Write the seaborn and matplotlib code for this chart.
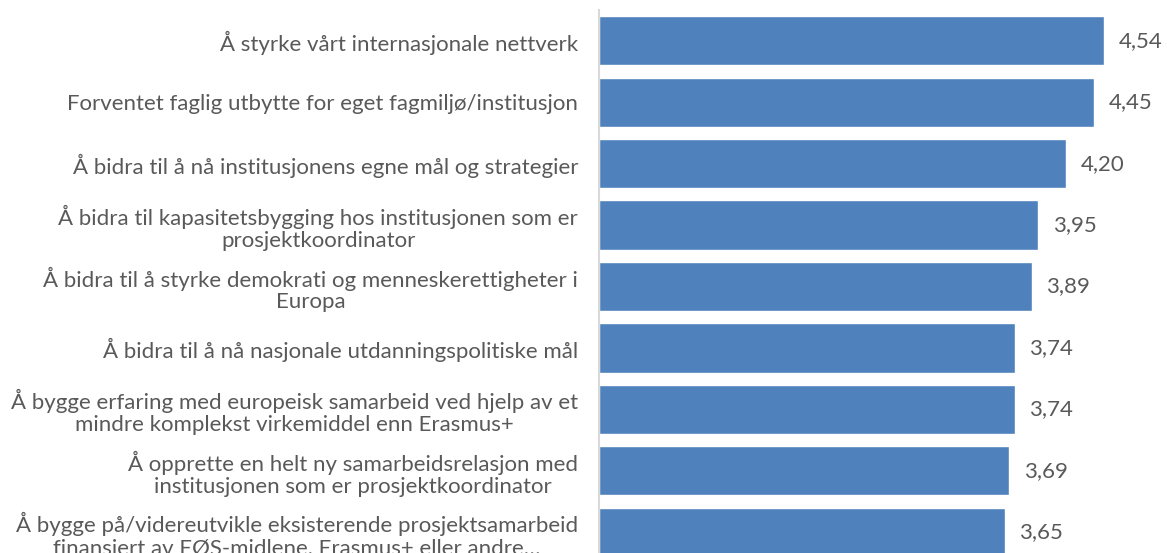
import matplotlib
matplotlib.use("Agg")
import matplotlib.pyplot as plt
import seaborn as sns
import pandas as pd

# -- Data
labels = [
    "Å styrke vårt internasjonale nettverk",
    "Forventet faglig utbytte for eget fagmiljø/institusjon",
    "Å bidra til å nå institusjonens egne mål og strategier",
    "Å bidra til kapasitetsbygging hos institusjonen som er\nprosjektkoordinator",
    "Å bidra til å styrke demokrati og menneskerettigheter i\nEuropa",
    "Å bidra til å nå nasjonale utdanningspolitiske mål",
    "Å bygge erfaring med europeisk samarbeid ved hjelp av et\nmindre komplekst virkemiddel enn Erasmus+",
    "Å opprette en helt ny samarbeidsrelasjon med\ninstitusjonen som er prosjektkoordinator",
    "Å bygge på/videreutvikle eksisterende prosjektsamarbeid\nfinansiert av EØS-midlene, Erasmus+ eller andre…",
]
values = [4.54, 4.45, 4.20, 3.95, 3.89, 3.74, 3.74, 3.69, 3.65]

df = pd.DataFrame({"label": labels, "value": values})

sns.set_style("white")
plt.rcParams["font.family"] = ["Lato", "DejaVu Sans"]

TEXT = "#595959"
BAR = "#4F81BD"
FS = 16

fig = plt.figure(figsize=(11.67, 5.53), dpi=100)
# axes run past the bottom edge: the reference is cropped
ax = fig.add_axes([599 / 1167, 1 - 563 / 553, 556 / 1167, 553 / 553])

sns.barplot(data=df, x="value", y="label", orient="h", color=BAR,
            width=0.8, saturation=1, ax=ax)

ax.set_xlim(0, 5)
ax.set_ylim(len(labels) - 0.5, -0.5)

# verdier til høyre for stolpene, med komma som desimaltegn
for i, v in enumerate(values):
    ax.text(v + 0.13, i, f"{v:.2f}".replace(".", ","), va="center",
            ha="left", fontsize=FS, color=TEXT, clip_on=False)

ax.set_xlabel("")
ax.set_ylabel("")
ax.set_xticks([])
ax.tick_params(axis="y", length=0, pad=15, labelsize=FS, labelcolor=TEXT)
for lbl in ax.get_yticklabels():
    lbl.set_linespacing(1.1)
    lbl.set_multialignment("center")

for side in ["top", "right", "bottom"]:
    ax.spines[side].set_visible(False)
ax.spines["left"].set_color("#D9D9D9")
ax.spines["left"].set_linewidth(1.5)

fig.savefig("out.png", dpi=100)
